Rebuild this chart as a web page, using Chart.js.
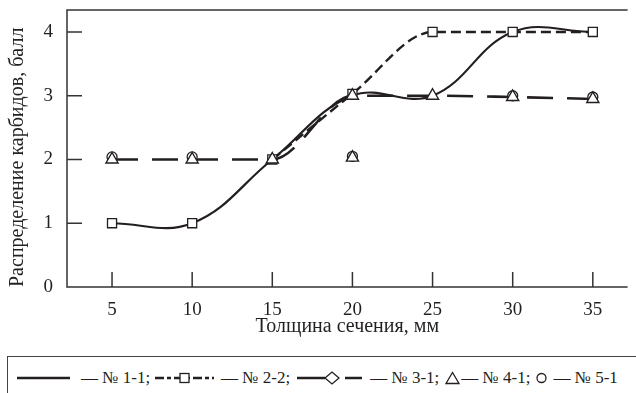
<!DOCTYPE html>
<html>
<head>
<meta charset="utf-8">
<script src="https://cdn.jsdelivr.net/npm/chart.js@4"></script>
<style>
  html, body { margin: 0; padding: 0; background: #fff; }
  body { width: 636px; height: 393px; position: relative; overflow: hidden; font-family: "Liberation Serif", serif; color: #231f20; }
  #wrap { position: absolute; left: 0; top: 0; width: 636px; height: 345px; }
  #legend { position: absolute; left: 7px; top: 356px; width: 640px; height: 50px; border: 1.5px solid #444; box-sizing: border-box; }
  #legend .row { position: absolute; left: 9px; top: 11px; display: flex; align-items: center; white-space: nowrap; line-height: 20px; font-size: 17px; }
  #legend svg { display: block; }
</style>
</head>
<body>
<div id="wrap"><canvas id="chart"></canvas></div>
<div id="legend">
  <div class="row">
    <svg width="53" height="12"><line x1="0" y1="6" x2="53" y2="6" stroke="#231f20" stroke-width="2.5"/></svg>
    <span style="margin-left:11px">— № 1-1;</span>
    <svg width="59" height="12" style="margin-left:5px"><line x1="0" y1="6" x2="59" y2="6" stroke="#231f20" stroke-width="2.5" stroke-dasharray="9,3,4,3"/><rect x="25" y="1.5" width="9" height="9" fill="#fff" stroke="#231f20" stroke-width="1.3"/></svg>
    <span style="margin-left:7px">— № 2-2;</span>
    <svg width="65" height="14" style="margin-left:7px"><line x1="0" y1="7" x2="28" y2="7" stroke="#231f20" stroke-width="2.5"/><line x1="48" y1="7" x2="65" y2="7" stroke="#231f20" stroke-width="2.5"/><path d="M 28 7 L 35 1 L 42 7 L 35 13 Z" fill="#fff" stroke="#231f20" stroke-width="1.3"/></svg>
    <span style="margin-left:8px">— № 3-1;</span>
    <svg width="15" height="14" style="margin-left:6px"><path d="M 1 12.5 L 7.5 1.5 L 14 12.5 Z" fill="#fff" stroke="#231f20" stroke-width="1.3"/></svg>
    <span style="margin-left:1px">— № 4-1;</span>
    <svg width="11" height="12" style="margin-left:6px"><circle cx="5.5" cy="6" r="4.5" fill="#fff" stroke="#231f20" stroke-width="1.3"/></svg>
    <span style="margin-left:6px">— № 5-1</span>
  </div>
</div>
<script>
// Carbide distribution score vs. section thickness
const thickness = [5, 10, 15, 20, 25, 30, 35];
const sample11 = [1, 1, 2, 3, 3, 4, 4];
const sample22 = [1, 1, 2, 3.03, 4, 4, 4];
const sample31 = [2, 2, 2, 3, 3, 2.98, 2.95];
const sample41X = [5, 10, 15, 20, 20, 25, 30, 35];
const sample41 = [2, 2, 2, 3, 2.03, 3, 2.98, 2.95];
const sample51X = [5, 10, 20, 30, 35];
const sample51 = [2.04, 2.04, 2.05, 3.0, 2.98];
const xTicks = [5, 10, 15, 20, 25, 30, 35];
const yTicks = [0, 1, 2, 3, 4];

const ink = '#231f20';
const pts = (xs, ys) => xs.map((x, i) => ({ x: x, y: ys[i] }));

// top border plus inward-pointing ticks
const frame = {
    id: 'frame',
    beforeDatasetsDraw(chart) {
        const { ctx, chartArea: a, scales: { x, y } } = chart;
        ctx.save();
        ctx.strokeStyle = '#333';
        ctx.lineWidth = 1.5;
        ctx.beginPath();
        ctx.moveTo(a.right, a.top);
        ctx.lineTo(a.left, a.top);
        ctx.lineTo(a.left, a.bottom);
        ctx.lineTo(a.right, a.bottom);
        xTicks.forEach(v => {
            const px = x.getPixelForValue(v);
            ctx.moveTo(px, a.bottom);
            ctx.lineTo(px, a.bottom - 15);
        });
        yTicks.slice(1).forEach(v => {
            const py = y.getPixelForValue(v);
            ctx.moveTo(a.left, py);
            ctx.lineTo(a.left + 15, py);
        });
        ctx.stroke();
        ctx.restore();
    }
};

const tickFont = { family: 'Liberation Serif', size: 19 };
const titleFont = { family: 'Liberation Serif', size: 20 };

// no extra room for the edge labels, the plot box is fixed
function noEdgePadding(s) {
    s.paddingTop = 0; s.paddingBottom = 0;
    s.paddingLeft = 0; s.paddingRight = 0;
}

new Chart(document.getElementById('chart'), {
    type: 'line',
    data: {
        datasets: [
            {
                label: '№ 4-1', data: pts(sample41X, sample41), showLine: false, order: 0,
                pointStyle: 'triangle', pointRadius: 7, pointBorderWidth: 1.4,
                pointBackgroundColor: '#fff', pointBorderColor: ink
            },
            {
                label: '№ 2-2', data: pts(thickness, sample22), order: 1,
                cubicInterpolationMode: 'monotone',
                borderColor: ink, borderWidth: 2.4, borderDash: [10, 5],
                // up to 15 mm this sample runs on the № 1-1 curve
                segment: { borderColor: c => c.p0DataIndex < 2 ? 'rgba(0,0,0,0)' : ink },
                pointStyle: 'rect', pointRadius: 6.4, pointBorderWidth: 1.3,
                pointBackgroundColor: '#fff', pointBorderColor: ink
            },
            {
                label: '№ 5-1', data: pts(sample51X, sample51), showLine: false, order: 2,
                pointStyle: 'circle', pointRadius: 5, pointBorderWidth: 1.3,
                pointBackgroundColor: '#fff', pointBorderColor: ink
            },
            {
                label: '№ 3-1', data: pts(thickness, sample31), order: 3,
                cubicInterpolationMode: 'monotone',
                borderColor: ink, borderWidth: 2.6, borderDash: [26, 14], pointRadius: 0
            },
            {
                label: '№ 1-1', data: pts(thickness, sample11), order: 4, tension: 0.4,
                borderColor: ink, borderWidth: 2.2, pointRadius: 0
            }
        ]
    },
    options: {
        responsive: true,
        maintainAspectRatio: false,
        animation: false,
        layout: { padding: { top: 10, right: 0, left: 0, bottom: 0 } },
        plugins: { legend: { display: false }, tooltip: { enabled: false } },
        scales: {
            x: {
                type: 'linear', min: 2.19, max: 37.17,
                afterBuildTicks: s => { s.ticks = xTicks.map(v => ({ value: v })); },
                afterFit: s => { s.height = 58; noEdgePadding(s); },
                grid: { display: false, drawTicks: false },
                border: { display: false },
                ticks: { color: ink, font: tickFont, padding: 12, maxRotation: 0 },
                title: { display: true, text: 'Толщина сечения, мм', color: ink, font: titleFont, padding: { top: 0, bottom: 6 } }
            },
            y: {
                type: 'linear', min: 0, max: 4.345,
                afterBuildTicks: s => { s.ticks = yTicks.map(v => ({ value: v })); },
                afterFit: s => { s.width = 67; noEdgePadding(s); },
                grid: { display: false, drawTicks: false },
                border: { display: false },
                ticks: { color: ink, font: tickFont, padding: 14 },
                title: { display: true, align: 'start', text: 'Распределение карбидов, балл', color: ink, font: titleFont, padding: { top: 6, bottom: 0 } }
            }
        }
    },
    plugins: [frame]
});
</script>
</body>
</html>
